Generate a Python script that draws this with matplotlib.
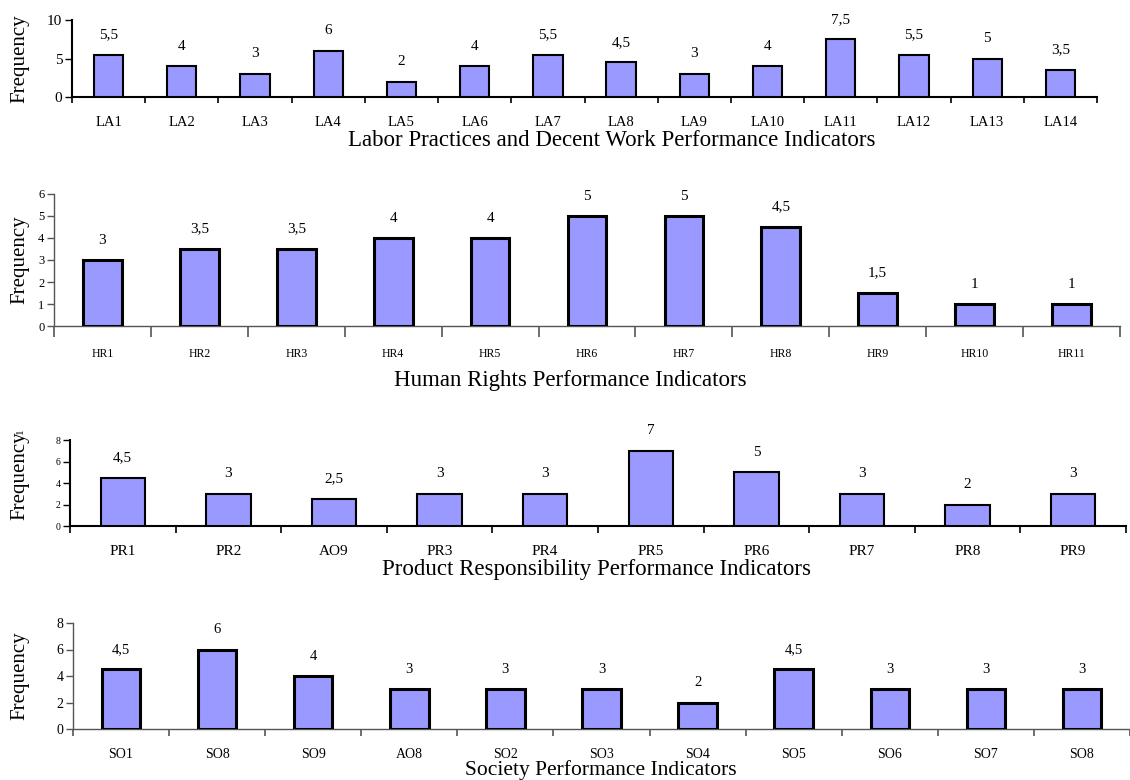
import matplotlib
matplotlib.use("Agg")
import matplotlib.pyplot as plt
from matplotlib.ticker import FixedLocator, NullFormatter

plt.rcParams['font.family'] = ['Liberation Serif', 'DejaVu Serif']

# ---------------- data ----------------
la_cats = ["LA1", "LA2", "LA3", "LA4", "LA5", "LA6", "LA7", "LA8", "LA9",
           "LA10", "LA11", "LA12", "LA13", "LA14"]
la_vals = [5.5, 4, 3, 6, 2, 4, 5.5, 4.5, 3, 4, 7.5, 5.5, 5, 3.5]

hr_cats = ["HR1", "HR2", "HR3", "HR4", "HR5", "HR6", "HR7", "HR8", "HR9",
           "HR10", "HR11"]
hr_vals = [3, 3.5, 3.5, 4, 4, 5, 5, 4.5, 1.5, 1, 1]

pr_cats = ["PR1", "PR2", "AO9", "PR3", "PR4", "PR5", "PR6", "PR7", "PR8", "PR9"]
pr_vals = [4.5, 3, 2.5, 3, 3, 7, 5, 3, 2, 3]

so_cats = ["SO1", "SO8", "SO9", "AO8", "SO2", "SO3", "SO4", "SO5", "SO6",
           "SO7", "SO8"]
so_vals = [4.5, 6, 4, 3, 3, 3, 2, 4.5, 3, 3, 3]

W, H = 1130, 780
fig = plt.figure(figsize=(W / 100, H / 100), dpi=100)

BAR = '#9999FF'


def fmt(v):
    s = ('%g' % v)
    return s.replace('.', ',')


def panel(cats, vals, box, ymax, ystep, xlabel, cfg):
    l, t, r, b = box  # pixel coords
    ax = fig.add_axes([l / W, 1 - b / H, (r - l) / W, (b - t) / H])
    n = len(cats)
    x = list(range(n))
    ax.bar(x, vals, width=cfg['bw'], color=BAR, edgecolor='black',
           linewidth=cfg['elw'], zorder=3)
    ax.set_xlim(-0.5, n - 0.5)
    ax.set_ylim(0, ymax)
    ax.set_yticks([i * ystep for i in range(int(round(ymax / ystep)) + 1)])
    ax.tick_params(axis='y', direction='out', length=5, width=1,
                   labelsize=cfg['ytick'], pad=2, color=cfg['sc'])
    ax.set_xticks(x)
    ax.set_xticklabels(cats, fontsize=cfg['xtick'])
    ax.tick_params(axis='x', which='major', length=0, pad=cfg['xpad'])
    ax.xaxis.set_minor_locator(FixedLocator([i - 0.5 for i in range(n + 1)]))
    ax.xaxis.set_minor_formatter(NullFormatter())
    ax.tick_params(axis='x', which='minor', direction='out',
                   length=cfg['tl'], width=1.2, color=cfg['sc'])
    for s in ['top', 'right']:
        ax.spines[s].set_visible(False)
    for s in ['left', 'bottom']:
        ax.spines[s].set_color(cfg['sc'])
        ax.spines[s].set_linewidth(cfg['slw'])
    for xi, v in zip(x, vals):
        ax.annotate(fmt(v), (xi, v), xytext=(0, 14.4), textcoords='offset points',
                    ha='center', va='center', fontsize=cfg['dl'])
    # x label
    ax.set_xlabel(xlabel, fontsize=cfg['xl'])
    ax.xaxis.label.set_va('center')
    ax.xaxis.set_label_coords((cfg['xlx'] - l) / (r - l),
                              -cfg['xly'] / (b - t))
    # y label
    ax.set_ylabel(cfg.get('ylab', 'Frequency'), fontsize=15)
    ax.yaxis.label.set_va('center')
    ax.yaxis.set_label_coords((20 - l) / (r - l), 0.5)
    return ax


panel(la_cats, la_vals, (72, 20, 1097, 97), 10, 5,
      "Labor Practices and Decent Work Performance Indicators",
      dict(bw=0.4, elw=1.5, ytick=11, xtick=10.5, dl=11, xl=16.5, xpad=14,
           tl=4, sc='black', slw=1.5, xlx=612, xly=44))

panel(hr_cats, hr_vals, (54, 194, 1120, 326), 6, 1,
      "Human Rights Performance Indicators",
      dict(bw=0.4, elw=2.2, ytick=9, xtick=8.5, dl=11, xl=16.5, xpad=16,
           tl=8, sc='#555555', slw=1.0, xlx=570, xly=54))

ax3 = panel(pr_cats, pr_vals, (70, 440, 1126, 526), 8, 2,
            "Product Responsibility Performance Indicators",
            dict(bw=0.42, elw=1.5, ytick=7, xtick=11, dl=11, xl=16.5, xpad=14,
                 tl=5, sc='black', slw=1.5, xlx=597, xly=43))
# small trailing mark after the third y label
fig.text(20 / W, 1 - 431 / H, "1", rotation=90, fontsize=8,
         ha='center', va='center')
ax3.yaxis.set_label_coords((20 - 70) / (1126 - 70), 0.58)

panel(so_cats, so_vals, (73, 623, 1130, 729), 8, 2,
      "Society Performance Indicators",
      dict(bw=0.4, elw=2.2, ytick=10, xtick=10, dl=10.5, xl=15.5, xpad=14,
           tl=5, sc='#555555', slw=1.0, xlx=601, xly=41))

fig.savefig("out.png", dpi=100)
